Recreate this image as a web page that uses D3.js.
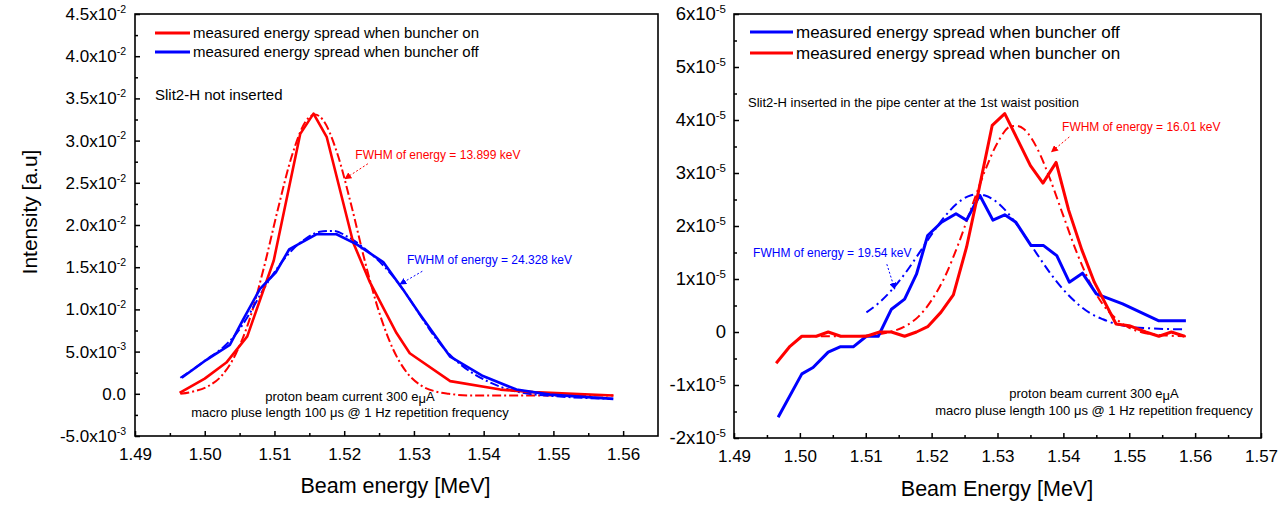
<!DOCTYPE html>
<html>
<head>
<meta charset="utf-8">
<script src="https://cdn.jsdelivr.net/npm/d3@7"></script>
<style>
body { margin: 0; background: #fff; }
svg { display: block; font-family: "Liberation Sans", Arial, sans-serif; }
</style>
</head>
<body>
<svg id="chart" width="1280" height="505"></svg>
<script>
'use strict';

// ---- left panel : Slit2-H not inserted (intensity, a.u.) ----
var leftOnX  = [1.4964, 1.5000, 1.5031, 1.5061, 1.5099, 1.5137, 1.5156, 1.5175, 1.5213, 1.5237, 1.5275, 1.5294, 1.5352, 1.5424, 1.5471, 1.5586];
var leftOnY  = [0.0001, 0.0018, 0.0037, 0.0068, 0.0158, 0.0308, 0.0332, 0.0304, 0.0179, 0.0132, 0.0072, 0.0048, 0.0015, 0.0005, 0.0002, -0.0002];

var leftOnFitX = [1.4965, 1.4985, 1.5005, 1.5025, 1.5045, 1.5065, 1.5085, 1.5105, 1.5125, 1.5145, 1.5158, 1.5170, 1.5190, 1.5210, 1.5230, 1.5250, 1.5270, 1.5290, 1.5310, 1.5330, 1.5350, 1.5380, 1.5450, 1.5586];
var leftOnFitY = [0.0000, 0.0003, 0.0009, 0.0022, 0.0048, 0.0090, 0.0150, 0.0219, 0.0282, 0.0323, 0.0331, 0.0324, 0.0285, 0.0224, 0.0156, 0.0097, 0.0053, 0.0025, 0.0010, 0.0003, 0.0000, -0.0002, -0.0002, -0.0002];

var leftOffX = [1.4967, 1.5002, 1.5017, 1.5036, 1.5055, 1.5079, 1.5102, 1.5121, 1.5160, 1.5189, 1.5218, 1.5256, 1.5284, 1.5307, 1.5352, 1.5399, 1.5447, 1.5495, 1.5586];
var leftOffY = [0.0019, 0.0040, 0.0048, 0.0058, 0.0088, 0.0124, 0.0144, 0.0171, 0.0189, 0.0189, 0.0177, 0.0156, 0.0124, 0.0096, 0.0044, 0.0021, 0.0005, -0.0001, -0.0006];

var leftOffFitX = [1.4965, 1.4985, 1.5005, 1.5025, 1.5045, 1.5065, 1.5085, 1.5105, 1.5125, 1.5145, 1.5165, 1.5185, 1.5205, 1.5225, 1.5245, 1.5265, 1.5285, 1.5305, 1.5325, 1.5345, 1.5365, 1.5385, 1.5405, 1.5425, 1.5445, 1.5465, 1.5505, 1.5585];
var leftOffFitY = [0.0019, 0.0030, 0.0042, 0.0054, 0.0071, 0.0096, 0.0125, 0.0150, 0.0170, 0.0184, 0.0192, 0.0193, 0.0186, 0.0175, 0.0161, 0.0144, 0.0123, 0.0098, 0.0073, 0.0052, 0.0036, 0.0024, 0.0015, 0.0008, 0.0003, 0.0000, -0.0003, -0.0006];

var leftXTicks = [1.49, 1.50, 1.51, 1.52, 1.53, 1.54, 1.55, 1.56];
var leftXMinor = [1.495, 1.505, 1.515, 1.525, 1.535, 1.545, 1.555];
var leftYTicks = [-0.005, 0, 0.005, 0.010, 0.015, 0.020, 0.025, 0.030, 0.035, 0.040, 0.045];
var leftYMinor = [-0.0025, 0.0025, 0.0075, 0.0125, 0.0175, 0.0225, 0.0275, 0.0325, 0.0375, 0.0425];

// ---- right panel : Slit2-H inserted (values in units of 1e-5) ----
var rightOffX = [1.4967, 1.5003, 1.5020, 1.5043, 1.5061, 1.5081, 1.5101, 1.5119, 1.5139, 1.5159, 1.5177, 1.5194, 1.5215, 1.5237, 1.5253, 1.5273, 1.5293, 1.5311, 1.5328, 1.5351, 1.5370, 1.5390, 1.5409, 1.5429, 1.5450, 1.5490, 1.5545, 1.5586];
var rightOffY = [-1.61, -0.79, -0.67, -0.38, -0.28, -0.28, -0.08, -0.08, 0.43, 0.62, 1.09, 1.82, 2.07, 2.23, 2.11, 2.58, 2.11, 2.21, 2.07, 1.63, 1.63, 1.44, 0.94, 1.11, 0.72, 0.53, 0.21, 0.21];

var rightOffFitX = [1.5101, 1.5120, 1.5140, 1.5160, 1.5180, 1.5200, 1.5220, 1.5240, 1.5260, 1.5270, 1.5280, 1.5300, 1.5320, 1.5340, 1.5360, 1.5380, 1.5400, 1.5420, 1.5440, 1.5460, 1.5480, 1.5500, 1.5530, 1.5583];
var rightOffFitY = [0.37, 0.55, 0.80, 1.11, 1.47, 1.84, 2.18, 2.44, 2.58, 2.60, 2.58, 2.44, 2.18, 1.84, 1.47, 1.11, 0.80, 0.55, 0.36, 0.24, 0.15, 0.10, 0.07, 0.05];

var rightOnX = [1.4964, 1.4985, 1.5003, 1.5025, 1.5043, 1.5062, 1.5080, 1.5101, 1.5121, 1.5139, 1.5159, 1.5177, 1.5194, 1.5214, 1.5233, 1.5253, 1.5272, 1.5292, 1.5311, 1.5350, 1.5369, 1.5389, 1.5408, 1.5428, 1.5447, 1.5480, 1.5500, 1.5525, 1.5545, 1.5564, 1.5584];
var rightOnY = [-0.59, -0.27, -0.08, -0.08, 0.00, -0.08, -0.08, -0.08, 0.00, 0.00, -0.08, 0.00, 0.10, 0.37, 0.70, 1.60, 2.70, 3.90, 4.12, 3.14, 2.81, 3.20, 2.30, 1.55, 0.94, 0.15, 0.12, 0.00, -0.08, 0.00, -0.08];

var rightOnFitX = [1.5003, 1.5050, 1.5100, 1.5130, 1.5160, 1.5180, 1.5200, 1.5220, 1.5240, 1.5260, 1.5280, 1.5300, 1.5320, 1.5328, 1.5340, 1.5360, 1.5380, 1.5400, 1.5420, 1.5440, 1.5460, 1.5480, 1.5500, 1.5520, 1.5550, 1.5586];
var rightOnFitY = [-0.08, -0.08, -0.07, -0.02, 0.11, 0.29, 0.60, 1.04, 1.64, 2.33, 3.01, 3.57, 3.88, 3.89, 3.83, 3.47, 2.88, 2.19, 1.51, 0.94, 0.52, 0.25, 0.08, -0.01, -0.06, -0.08];

var rightXTicks = [1.49, 1.50, 1.51, 1.52, 1.53, 1.54, 1.55, 1.56, 1.57];
var rightXMinor = [1.495, 1.505, 1.515, 1.525, 1.535, 1.545, 1.555, 1.565];
var rightYTicks = [-2, -1, 0, 1, 2, 3, 4, 5, 6];
var rightYMinor = [-1.5, -0.5, 0.5, 1.5, 2.5, 3.5, 4.5, 5.5];

var RED = '#ff0000';
var BLUE = '#0000ff';

function Zip(xs, ys)
{
	return xs.map(function(x, i) { return [x, ys[i]]; });
}

function LeftTickLabel(v)
{
	if (Math.abs(v) < 1e-12) return ['0.0', ''];
	var e = Math.floor(Math.log10(Math.abs(v)) + 1e-9);
	var m = v / Math.pow(10, e);
	return [m.toFixed(1) + 'x10', String(e)];
}

function RightTickLabel(v)
{
	if (v == 0) return ['0', ''];
	return [v + 'x10', '-5'];
}

var svg = d3.select('#chart');
var defs = svg.append('defs');
[['red', RED], ['blue', BLUE]].forEach(function(c)
{
	defs.append('marker')
		.attr('id', 'arrow-' + c[0])
		.attr('viewBox', '0 0 10 10')
		.attr('refX', 9).attr('refY', 5)
		.attr('markerWidth', 7).attr('markerHeight', 7)
		.attr('markerUnits', 'userSpaceOnUse')
		.attr('orient', 'auto')
	  .append('path')
		.attr('d', 'M0,0 L10,5 L0,10 z')
		.attr('fill', c[1]);
});

function DrawPanel(p)
{
	var x = d3.scaleLinear().domain(p.xDomain).range([p.left, p.right]);
	var y = d3.scaleLinear().domain(p.yDomain).range([p.bottom, p.top]);
	var g = svg.append('g');

	function StyleAxis(s)
	{
		s.select('.domain').remove();
		s.selectAll('.tick line').attr('stroke', '#000').attr('stroke-width', 1.5);
		s.attr('font-family', null).attr('font-size', null);
	}

	// minor ticks (inward)
	g.append('g').attr('transform', 'translate(0,' + p.bottom + ')')
		.call(d3.axisBottom(x).tickValues(p.xMinor).tickSizeInner(-3).tickSizeOuter(0).tickFormat(''))
		.call(StyleAxis);
	g.append('g').attr('transform', 'translate(' + p.left + ',0)')
		.call(d3.axisLeft(y).tickValues(p.yMinor).tickSizeInner(-3).tickSizeOuter(0).tickFormat(''))
		.call(StyleAxis);

	// major x ticks
	var gx = g.append('g').attr('transform', 'translate(0,' + p.bottom + ')')
		.call(d3.axisBottom(x).tickValues(p.xTicks).tickSizeInner(-5).tickSizeOuter(0).tickPadding(12).tickFormat(d3.format('.2f')))
		.call(StyleAxis);
	gx.selectAll('.tick text').attr('fill', '#000').style('font-size', p.xTickFont + 'px');

	// major y ticks with superscript exponents
	var gy = g.append('g').attr('transform', 'translate(' + p.left + ',0)')
		.call(d3.axisLeft(y).tickValues(p.yTicks).tickSizeInner(-5).tickSizeOuter(0).tickPadding(p.yPad).tickFormat(''))
		.call(StyleAxis);
	gy.selectAll('.tick text').each(function(d)
	{
		var t = d3.select(this).attr('fill', '#000').style('font-size', p.yTickFont + 'px');
		var parts = p.tickLabel(d);
		t.append('tspan').text(parts[0]);
		if (parts[1] != '')
		{
			t.append('tspan').attr('dy', -p.yTickFont * 0.42).style('font-size', (p.yTickFont * 0.62) + 'px').text(parts[1]);
		}
	});

	// frame
	g.append('rect')
		.attr('x', p.left).attr('y', p.top)
		.attr('width', p.right - p.left).attr('height', p.bottom - p.top)
		.attr('fill', 'none').attr('stroke', '#000').attr('stroke-width', 1.6);

	// data lines
	var lineStraight = d3.line().x(function(d) { return x(d[0]); }).y(function(d) { return y(d[1]); });
	var lineSmooth = d3.line().curve(d3.curveMonotoneX).x(function(d) { return x(d[0]); }).y(function(d) { return y(d[1]); });

	p.series.forEach(function(s)
	{
		g.append('path')
			.datum(Zip(s.x, s.y))
			.attr('fill', 'none')
			.attr('stroke', s.color)
			.attr('stroke-width', s.fit ? p.fitWidth : p.lineWidth)
			.attr('stroke-linejoin', 'round')
			.attr('stroke-dasharray', s.fit ? p.dash : null)
			.attr('d', s.fit ? lineSmooth : lineStraight);
	});

	// legend
	p.legend.forEach(function(l)
	{
		g.append('line')
			.attr('x1', l.x).attr('x2', l.x + l.len)
			.attr('y1', l.y).attr('y2', l.y)
			.attr('stroke', l.color).attr('stroke-width', 3);
		g.append('text')
			.attr('x', l.x + l.len + 3).attr('y', l.y + p.legendFont * 0.36)
			.style('font-size', p.legendFont + 'px')
			.text(l.label);
	});

	// annotations
	p.notes.forEach(function(n)
	{
		var t = g.append('text')
			.attr('x', n.px != null ? n.px : x(n.x))
			.attr('y', n.py != null ? n.py : y(n.y))
			.attr('fill', n.color || '#000')
			.attr('text-anchor', n.anchor || 'start')
			.style('font-size', n.size + 'px');
		if (n.mu)
		{
			t.append('tspan').text(n.text[0]);
			t.append('tspan').attr('dy', 2).text('\u03bc');
			t.append('tspan').attr('dy', -2).text(n.text[1]);
		}
		else
		{
			t.text(n.text);
		}
	});

	p.arrows.forEach(function(a)
	{
		g.append('line')
			.attr('x1', x(a.from[0])).attr('y1', y(a.from[1]))
			.attr('x2', x(a.to[0])).attr('y2', y(a.to[1]))
			.attr('stroke', a.color).attr('stroke-width', 1)
			.attr('stroke-dasharray', '2,2')
			.attr('marker-end', 'url(#arrow-' + a.marker + ')');
	});

	// axis titles
	g.append('text')
		.attr('x', (p.left + p.right) / 2 + p.xTitleShift).attr('y', p.xTitleY)
		.attr('text-anchor', 'middle')
		.style('font-size', '21.5px')
		.text(p.xTitle);
	if (p.yTitle)
	{
		g.append('text')
			.attr('transform', 'translate(' + p.yTitleX + ',' + p.yTitleY + ') rotate(-90)')
			.attr('text-anchor', 'middle')
			.style('font-size', '21px')
			.text(p.yTitle);
	}
}

DrawPanel({
	left: 135, right: 658, top: 14, bottom: 436,
	xDomain: [1.49, 1.565], yDomain: [-0.005, 0.045],
	xTicks: leftXTicks, xMinor: leftXMinor, yTicks: leftYTicks, yMinor: leftYMinor,
	tickLabel: LeftTickLabel, xTickFont: 17, yTickFont: 17, yPad: 9,
	lineWidth: 2.6, fitWidth: 2, dash: '9,3,2,3',
	series: [
		{ x: leftOnFitX, y: leftOnFitY, color: RED, fit: true },
		{ x: leftOffFitX, y: leftOffFitY, color: BLUE, fit: true },
		{ x: leftOnX, y: leftOnY, color: RED },
		{ x: leftOffX, y: leftOffY, color: BLUE }
	],
	legendFont: 15,
	legend: [
		{ label: 'measured energy spread when buncher on', color: RED, x: 155, y: 33, len: 35 },
		{ label: 'measured energy spread when buncher off', color: BLUE, x: 155, y: 52, len: 35 }
	],
	notes: [
		{ text: 'Slit2-H not inserted', px: 155, py: 100, size: 15 },
		{ text: 'FWHM of energy = 13.899 keV', x: 1.5216, y: 0.0278, color: RED, size: 12 },
		{ text: 'FWHM of energy = 24.328 keV', x: 1.5290, y: 0.01536, color: BLUE, size: 12 },
		{ text: ['proton beam current 300 e', 'A'], mu: true, px: 350, py: 401, size: 13, anchor: 'middle' },
		{ text: 'macro pluse length 100 \u03bcs @ 1 Hz repetition frequency', px: 350, py: 417, size: 13, anchor: 'middle' }
	],
	arrows: [
		{ from: [1.5234, 0.02726], to: [1.5201, 0.02548], color: RED, marker: 'red' },
		{ from: [1.5312, 0.01452], to: [1.5280, 0.01298], color: BLUE, marker: 'blue' }
	],
	xTitle: 'Beam energy [MeV]', xTitleY: 493, xTitleShift: -1,
	yTitle: 'Intensity [a.u]', yTitleX: 37, yTitleY: 212
});

DrawPanel({
	left: 734, right: 1261, top: 14, bottom: 438,
	xDomain: [1.49, 1.57], yDomain: [-2, 6],
	xTicks: rightXTicks, xMinor: rightXMinor, yTicks: rightYTicks, yMinor: rightYMinor,
	tickLabel: RightTickLabel, xTickFont: 17, yTickFont: 18.5, yPad: 8,
	lineWidth: 3, fitWidth: 2, dash: '9,4,2,4',
	series: [
		{ x: rightOffFitX, y: rightOffFitY, color: BLUE, fit: true },
		{ x: rightOnFitX, y: rightOnFitY, color: RED, fit: true },
		{ x: rightOffX, y: rightOffY, color: BLUE },
		{ x: rightOnX, y: rightOnY, color: RED }
	],
	legendFont: 17,
	legend: [
		{ label: 'measured energy spread when buncher off', color: BLUE, x: 750, y: 32, len: 43 },
		{ label: 'measured energy spread when buncher on', color: RED, x: 750, y: 53, len: 43 }
	],
	notes: [
		{ text: 'Slit2-H inserted in the pipe center at the 1st waist position', px: 748, py: 107, size: 13 },
		{ text: 'FWHM of energy = 16.01 keV', x: 1.5398, y: 3.79, color: RED, size: 12 },
		{ text: 'FWHM of energy = 19.54 keV', x: 1.4929, y: 1.42, color: BLUE, size: 12 },
		{ text: ['proton beam current 300 e', 'A'], mu: true, px: 1094, py: 398, size: 13, anchor: 'middle' },
		{ text: 'macro pluse length 100 \u03bcs @ 1 Hz repetition frequency', px: 1094, py: 415, size: 13, anchor: 'middle' }
	],
	arrows: [
		{ from: [1.5409, 3.68], to: [1.5382, 3.40], color: RED, marker: 'red' },
		{ from: [1.5132, 1.28], to: [1.5144, 0.81], color: BLUE, marker: 'blue' }
	],
	xTitle: 'Beam Energy [MeV]', xTitleY: 496, xTitleShift: -0.5,
	yTitle: null
});
</script>
</body>
</html>
